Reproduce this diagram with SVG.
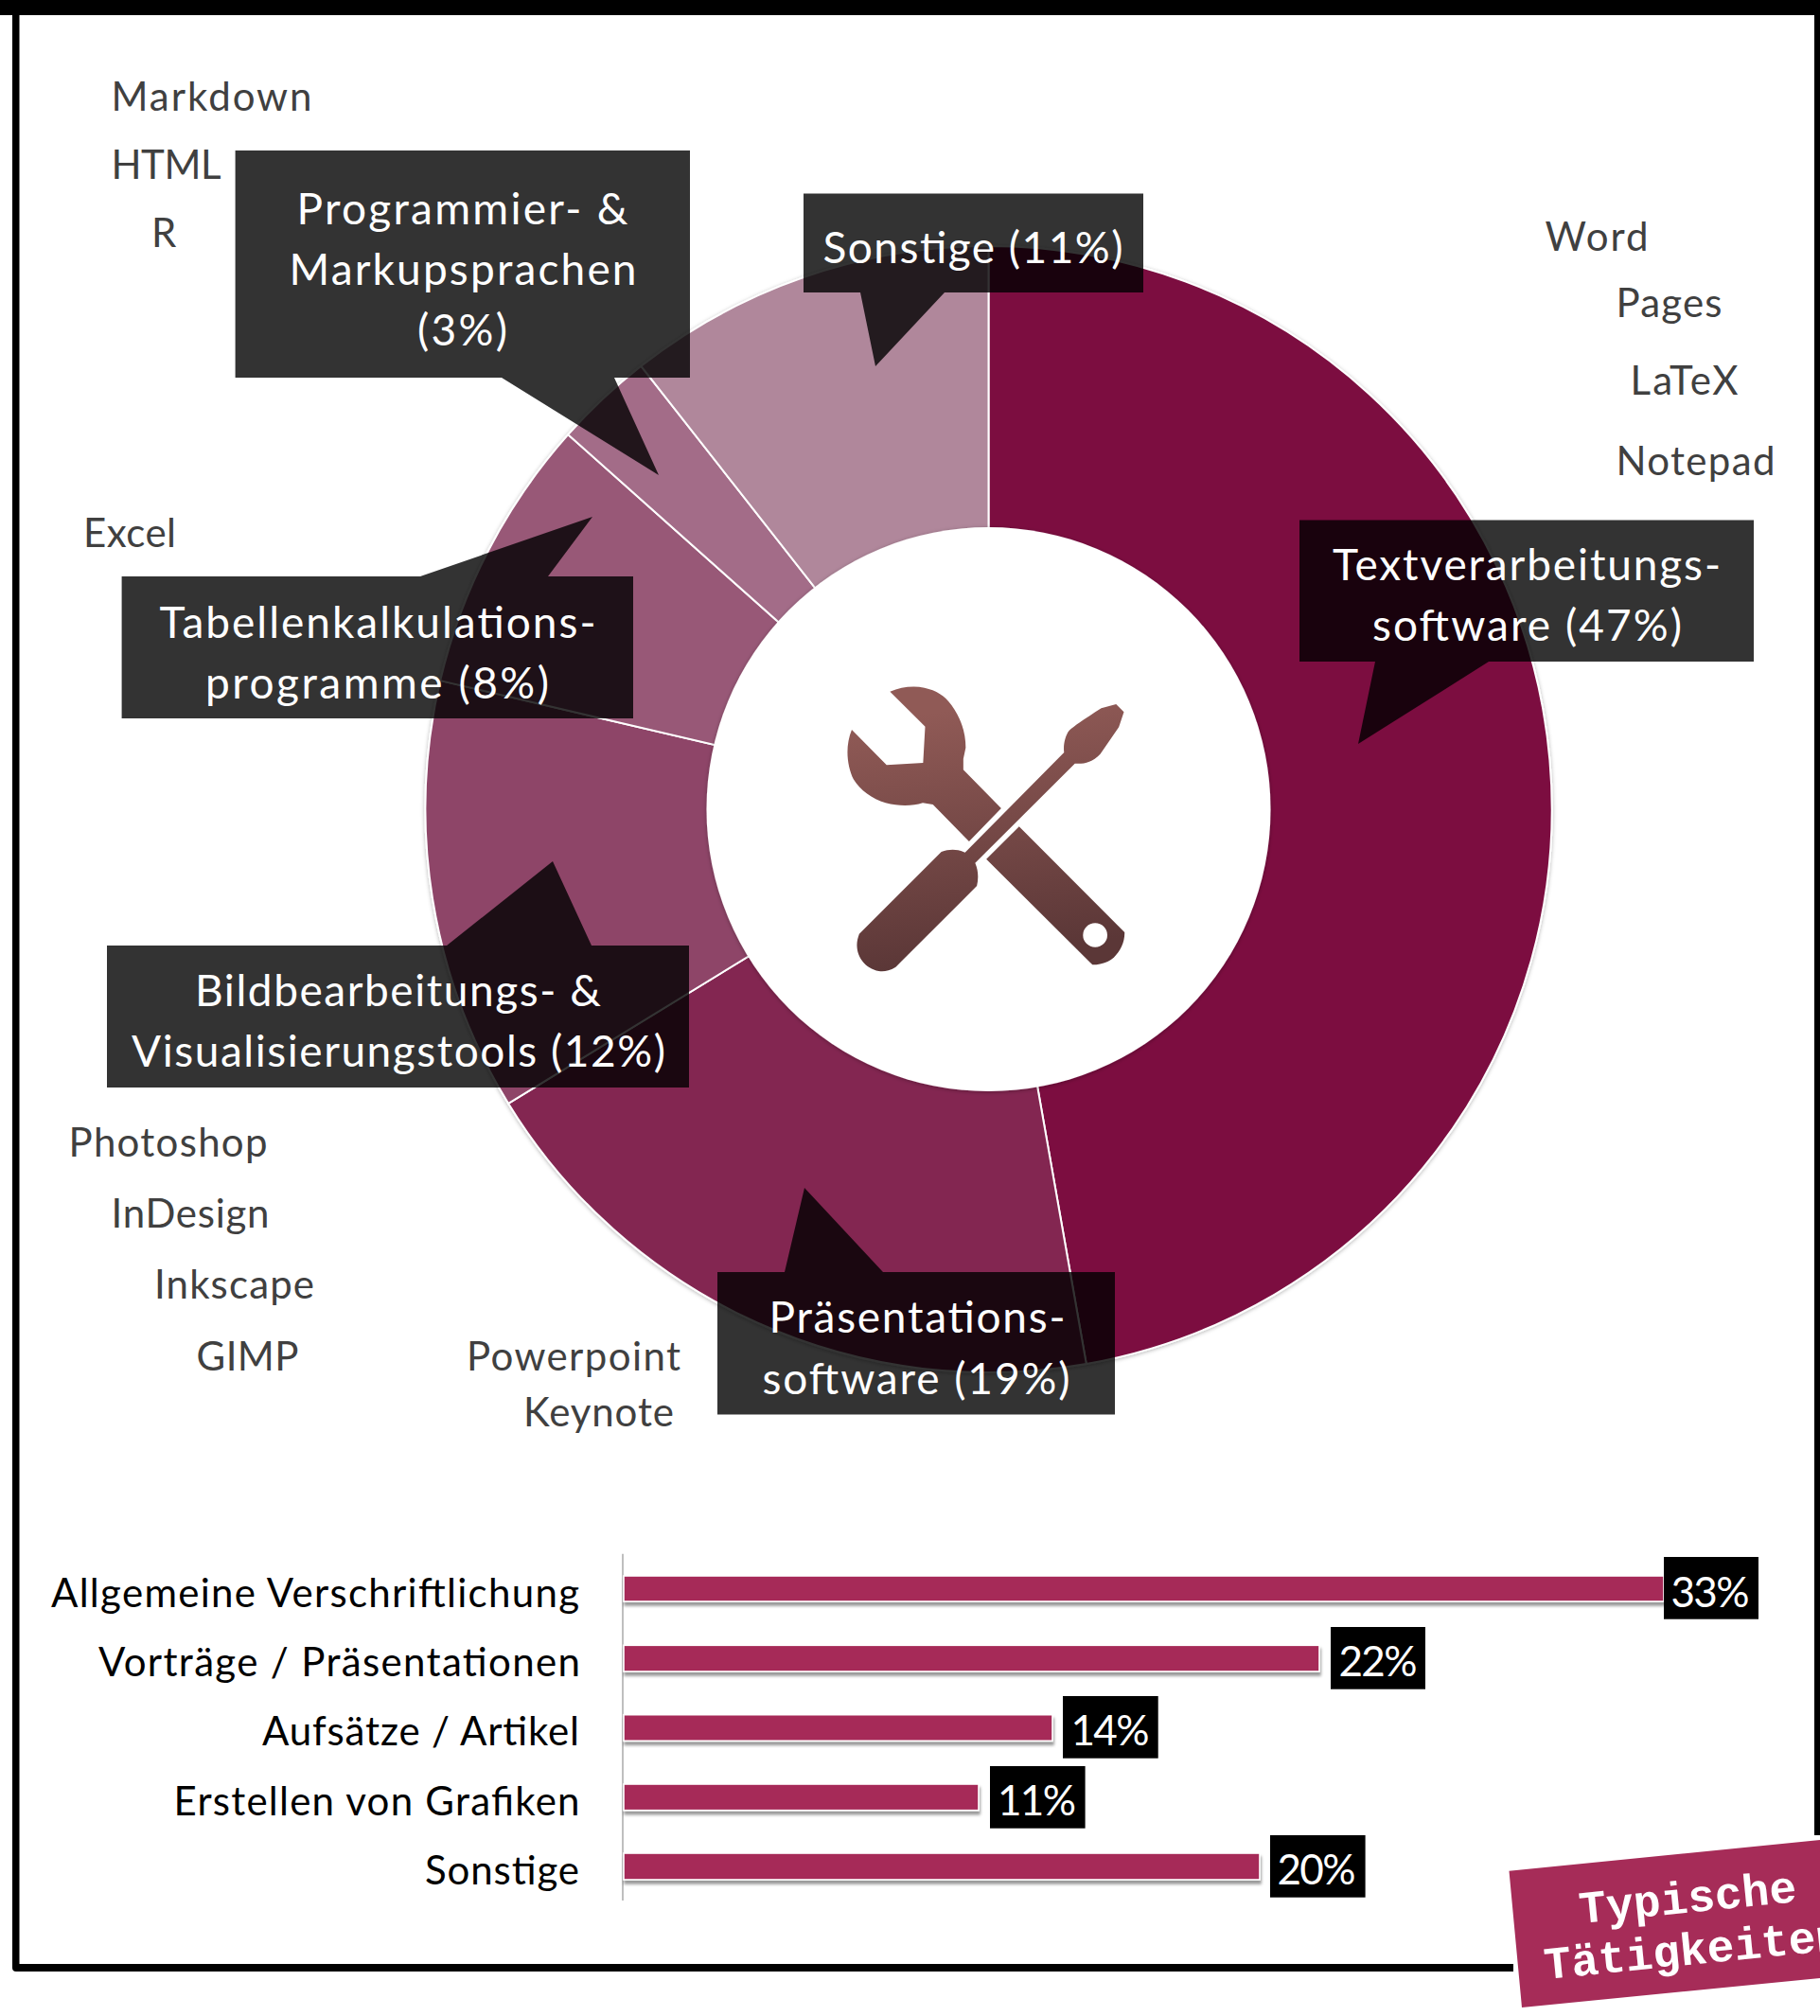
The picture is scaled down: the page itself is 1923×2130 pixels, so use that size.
<svg xmlns="http://www.w3.org/2000/svg" width="1923" height="2130" viewBox="0 0 1923 2130">
<style>
text{font-family:"Lato","Carlito","Open Sans",sans-serif}
.li{font-size:42px;fill:#404040}
.co{font-size:46px;fill:#fff}
.ca{font-size:42px;fill:#000}
.pc{font-size:44px;fill:#fff}
.cb{fill:#000;fill-opacity:.8}
.w{stroke:#fff;stroke-width:2}
.bar{fill:#a62c58;stroke:#fff;stroke-width:1.600;filter:url(#bs)}
.lb{fill:#000}
.bd{font-family:"Liberation Mono",monospace;font-weight:700;font-size:48px;fill:#fff}
</style>
<defs>
<filter id="bs" x="-2%" y="-30%" width="104%" height="180%"><feDropShadow dx="1" dy="4" stdDeviation="1.600" flood-color="#000" flood-opacity=".4"/></filter>
<filter id="ds" x="-5%" y="-5%" width="110%" height="110%"><feDropShadow dx="0" dy="1" stdDeviation="2" flood-color="#000" flood-opacity=".3"/></filter>
<linearGradient id="ig" gradientUnits="userSpaceOnUse" x1="600" y1="250" x2="720" y2="1030"><stop offset="0" stop-color="#905a56"/><stop offset="1" stop-color="#5b3737"/></linearGradient>
</defs>
<rect width="1923" height="2130" fill="#fff"/>
<g id="frame">
<path d="M0 0H1923V1939H1917V16H20.500V2075H1599V2083H17Q13 2083 13 2079V16H0Z" fill="#000"/>
</g>
<g id="donut" filter="url(#ds)">
<path id="s47" class="w" fill="#7b1041" d="M1044.500 855V260A595 595 0 0 1 1147.800 1441Z"/>
<path id="s19" class="w" fill="#832751" d="M1044.500 855L1147.800 1441A595 595 0 0 1 537.200 1165.900Z"/>
<path id="s12" class="w" fill="#8e4468" d="M1044.500 855L537.200 1165.900A595 595 0 0 1 465.200 719.100Z"/>
<path id="s8" class="w" fill="#985877" d="M1044.500 855L465.200 719.100A595 595 0 0 1 600.300 459.200Z"/>
<path id="s3" class="w" fill="#a36c88" d="M1044.500 855L600.300 459.200A595 595 0 0 1 677.400 386.800Z"/>
<path id="s11" class="w" fill="#b0879b" d="M1044.500 855L677.400 386.800A595 595 0 0 1 1044.500 260Z"/>
</g>
<circle id="hole" cx="1044.500" cy="855" r="298" fill="#fff" filter="url(#ds)"/>
<g id="icon" transform="translate(700 680) scale(.35714 .33333)" fill="url(#ig)">
<path id="wrench" d="M673 152C705 138 740 133 775 140C810 148 835 165 855 195C885 240 897 285 897 330L890 365V400L1002 522L907 627L800 510L770 505C740 515 700 516 660 505C620 492 585 465 565 430C545 385 540 325 560 273L663 385L771 378L777 263Z"/>
<path id="wrench2" fill-rule="evenodd" d="M1055 580L1367 915C1368 945 1355 975 1335 995C1315 1012 1295 1018 1272 1018L958 683ZM1244 924a36 38 0 1 0 72 0a36 38 0 1 0 -72 0Z"/>
<path id="driver" d="M1342 192L1365 217L1350 265L1295 350C1270 378 1245 382 1220 380L925 695C935 720 935 745 930 768L690 1025C670 1038 655 1040 640 1038C610 1032 590 1012 580 985C572 960 575 940 582 920L825 660C850 650 875 652 895 662L1188 345C1185 320 1192 295 1200 280C1210 265 1255 235 1298 205Z"/>
</g>
<g id="lists">
<text class="li" x="117.500" y="117" textLength="212">Markdown</text>
<text class="li" x="117.500" y="189" textLength="116">HTML</text>
<text class="li" x="160" y="261" textLength="23">R</text>
<text class="li" x="88" y="577.500" textLength="98">Excel</text>
<text class="li" x="1632.500" y="265" textLength="109">Word</text>
<text class="li" x="1707.500" y="335" textLength="112">Pages</text>
<text class="li" x="1722.500" y="417" textLength="114">LaTeX</text>
<text class="li" x="1707.500" y="502" textLength="168">Notepad</text>
<text class="li" x="72.500" y="1221.500" textLength="210">Photoshop</text>
<text class="li" x="117.500" y="1297" textLength="167">InDesign</text>
<text class="li" x="163" y="1372" textLength="169">Inkscape</text>
<text class="li" x="207.500" y="1447.500" textLength="108">GIMP</text>
<text class="li" x="493" y="1447.500" textLength="226">Powerpoint</text>
<text class="li" x="553" y="1507" textLength="159">Keynote</text>
</g>
<g id="callout-programmier">
<path class="cb" d="M248.600 159H729V399H649L696 502L530 399H248.600Z"/>
<text class="co" x="313.500" y="236.500" textLength="350">Programmier- &amp;</text>
<text class="co" x="305.500" y="300.500" textLength="367">Markupsprachen</text>
<text class="co" x="441" y="365" textLength="95">(3%)</text>
</g>
<g id="callout-sonstige">
<path class="cb" d="M849 204.600H1208V309H998L925 387L909 309H849Z"/>
<text class="co" x="869.500" y="277.500" textLength="317">Sonstige (11%)</text>
</g>
<g id="callout-tabellen">
<path class="cb" d="M128.600 609H444L626 546L579 609H669V759H128.600Z"/>
<text class="co" x="168.500" y="673.500" textLength="461">Tabellenkalkulations-</text>
<text class="co" x="217" y="737.500" textLength="363">programme (8%)</text>
</g>
<g id="callout-text">
<path class="cb" d="M1373 549.500H1853V699H1573L1435 786L1453 699H1373Z"/>
<text class="co" x="1408" y="613" textLength="410">Textverarbeitungs-</text>
<text class="co" x="1450" y="677" textLength="327">software (47%)</text>
</g>
<g id="callout-bild">
<path class="cb" d="M113 999H472L584 910L625 999H728V1149H113Z"/>
<text class="co" x="206" y="1063" textLength="429">Bildbearbeitungs- &amp;</text>
<text class="co" x="139" y="1127" textLength="564">Visualisierungstools (12%)</text>
</g>
<g id="callout-praes">
<path class="cb" d="M758 1344H829L850 1255L933 1344H1178V1494.600H758Z"/>
<text class="co" x="812.500" y="1407.500" textLength="313">Präsentations-</text>
<text class="co" x="805.500" y="1472.500" textLength="325">software (19%)</text>
</g>
<g id="barchart">
<line x1="658" y1="1641.700" x2="658" y2="2008" stroke="#aaa" stroke-width="1.500"/>
<g id="bar1"><rect class="bar" x="659" y="1665" width="1099" height="27"/><rect class="lb" x="1758" y="1645" width="100" height="65.700"/><text class="pc" x="1765.500" y="1697.500" textLength="83">33%</text><text class="ca" x="54" y="1697.700" textLength="558">Allgemeine Verschriftlichung</text></g>
<g id="bar2"><rect class="bar" x="659" y="1738.300" width="735" height="27.700"/><rect class="lb" x="1406" y="1719" width="100" height="65.700"/><text class="pc" x="1414.500" y="1771" textLength="83">22%</text><text class="ca" x="104" y="1770.700" textLength="509">Vorträge / Präsentationen</text></g>
<g id="bar3"><rect class="bar" x="659" y="1811.700" width="453" height="27.600"/><rect class="lb" x="1123" y="1792" width="100.700" height="65.700"/><text class="pc" x="1131.500" y="1844" textLength="83">14%</text><text class="ca" x="277" y="1844" textLength="335">Aufsätze / Artikel</text></g>
<g id="bar4"><rect class="bar" x="659" y="1885" width="375" height="27.700"/><rect class="lb" x="1046" y="1866" width="100.600" height="65.700"/><text class="pc" x="1054" y="1918" textLength="83">11%</text><text class="ca" x="183.500" y="1917.500" textLength="429">Erstellen von Grafiken</text></g>
<g id="bar5"><rect class="bar" x="659" y="1958" width="672" height="28"/><rect class="lb" x="1342" y="1939" width="100.600" height="65.700"/><text class="pc" x="1349.500" y="1991" textLength="83">20%</text><text class="ca" x="449" y="1990.700" textLength="163">Sonstige</text></g>
</g>
<g id="badge">
<path d="M1594.500 1976.700L1923 1944V2090L1608 2121Z" fill="#a62c58"/>
<text class="bd" transform="translate(1670 2032) rotate(-5.700)">Typische</text>
<text class="bd" transform="translate(1633 2091) rotate(-5.700)">Tätigkeiten</text>
</g>
</svg>
